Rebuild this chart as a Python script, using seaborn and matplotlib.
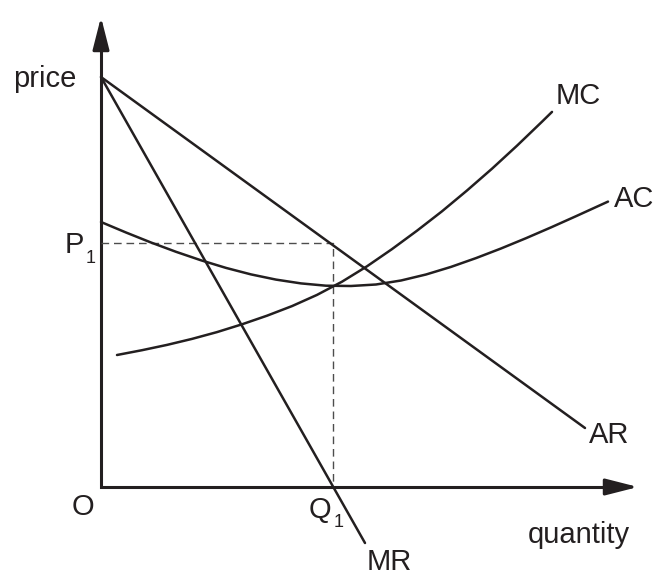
import matplotlib
matplotlib.use("Agg")
import matplotlib.pyplot as plt
import seaborn as sns

# -----------------------------
# Data (quantity, price) in arbitrary diagram units
# -----------------------------
ar_q = [0.0, 48.4]
ar_p = [41.0, 5.9]

mr_q = [0.0, 26.4]
mr_p = [41.0, -5.6]

mc_q = [1.6, 4.1, 6.6, 9.1, 11.6, 14.1, 16.6, 19.1, 21.6, 24.1,
        26.6, 29.1, 31.6, 34.1, 36.6, 39.1, 41.6, 44.1, 45.1]
mc_p = [13.2, 13.68, 14.21, 14.81, 15.49, 16.27, 17.13, 18.09, 19.21, 20.53,
        22.07, 23.79, 25.63, 27.57, 29.65, 31.83, 34.13, 36.53, 37.51]

ac_q = [0.0, 2.5, 5.0, 7.5, 10.0, 12.5, 15.0, 17.5, 20.0, 22.5, 25.0,
        27.5, 30.0, 32.5, 35.0, 37.5, 40.0, 42.5, 45.0, 47.5, 50.0, 50.7]
ac_p = [26.5, 25.45, 24.45, 23.52, 22.67, 21.91, 21.26, 20.74, 20.36, 20.13, 20.10,
        20.25, 20.65, 21.25, 22.01, 22.89, 23.85, 24.88, 25.96, 27.08, 28.22, 28.54]

q1 = 23.2
p1 = 24.4

# -----------------------------
# Style
# -----------------------------
sns.set_theme(style="white")
plt.rcParams["font.family"] = ["Liberation Sans", "DejaVu Sans"]

INK = "#231f20"
FS = 21
SUB = 13

fig = plt.figure(figsize=(6.64, 5.88), dpi=100)
ax = fig.add_axes([0, 0, 1, 1])
ax.set_xlim(-10.1, 56.3)
ax.set_ylim(-10.1, 48.7)
ax.axis("off")

# axes: one polyline plus arrow heads
ax.plot([0, 0, 52.0], [45.5, 0, 0], color=INK, lw=2.2,
        solid_joinstyle="miter", solid_capstyle="butt")
head = dict(arrowstyle="-|>,head_length=1.65,head_width=0.42",
            lw=2.2, color=INK, shrinkA=0, shrinkB=0)
ax.annotate("", xy=(0, 47.0), xytext=(0, 44.6), arrowprops=head)
ax.annotate("", xy=(53.7, 0), xytext=(51.3, 0), arrowprops=head)

# dashed guides to P1 / Q1
ax.plot([0, q1, q1], [p1, p1, 0], color="#4d4d4d", lw=1.0,
        linestyle=(0, (5.5, 3.5)))

# curves
for qs, ps in [(ar_q, ar_p), (mr_q, mr_p), (mc_q, mc_p), (ac_q, ac_p)]:
    sns.lineplot(x=qs, y=ps, sort=False, estimator=None, color=INK,
                 lw=1.8, ax=ax)

# labels
def label(x, y, s, size=FS):
    ax.text(x, y, s, fontsize=size, color=INK, ha="left", va="baseline")

label(-8.8, 40.0, "price")
label(-3.6, 23.4, "P")
label(-1.5, 22.4, "1", SUB)
label(-2.9, -2.8, "O")
label(20.8, -3.1, "Q")
label(23.3, -4.0, "1", SUB)
label(26.6, -8.3, "MR")
label(42.7, -5.6, "quantity")
label(48.8, 4.4, "AR")
label(45.5, 38.3, "MC")
label(51.3, 28.0, "AC")

fig.savefig("out.png", dpi=100)
plt.close(fig)
